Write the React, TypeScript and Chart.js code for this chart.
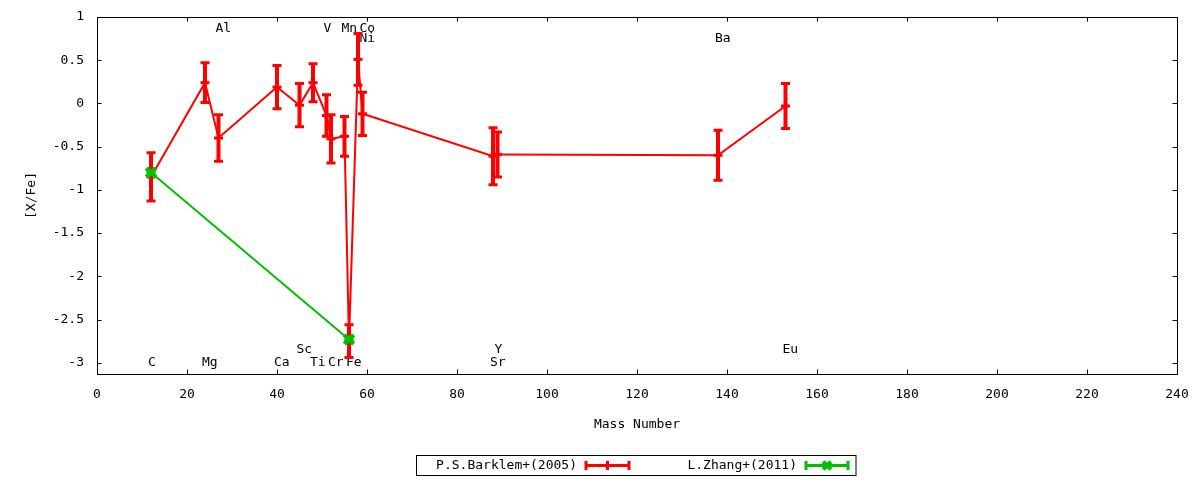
import { useEffect, useRef } from 'react';
import { Chart, registerables } from 'chart.js';

Chart.register(...registerables);

// ---- data ----
const barklemMass = [12, 24, 27, 40, 45, 48, 51, 52, 55, 56, 58, 59, 88, 89, 138, 153];
const barklemXFe = [-0.85, 0.24, -0.40, 0.19, -0.02, 0.24, -0.14, -0.41, -0.38, -2.75, 0.51, -0.12, -0.61, -0.59, -0.60, -0.03];
const barklemErr = [0.28, 0.23, 0.27, 0.25, 0.25, 0.22, 0.24, 0.28, 0.23, 0.19, 0.30, 0.25, 0.33, 0.26, 0.29, 0.26];

const zhangMass = [12, 56];
const zhangXFe = [-0.80, -2.73];
const zhangErr = [0, 0];

const elementNames = ['C', 'Mg', 'Al', 'Ca', 'Sc', 'Ti', 'V', 'Cr', 'Mn', 'Fe', 'Co', 'Ni', 'Sr', 'Y', 'Ba', 'Eu'];
const elementMass = [12, 24, 27, 40, 45, 48, 51, 52, 55, 56, 59, 59, 88, 89, 138, 153];
const elementLevel = [-3, -3, 0.87, -3, -2.85, -3, 0.87, -3, 0.87, -3, 0.87, 0.75, -3, -2.85, 0.75, -2.85];

const xTicks = [0, 20, 40, 60, 80, 100, 120, 140, 160, 180, 200, 220, 240];
const yTicks = [-3, -2.5, -2, -1.5, -1, -0.5, 0, 0.5, 1];

const FONT = '"DejaVu Sans Mono"';
const RED = '#ff0000';
const GREEN = '#00c000';

function drawCrossRot(ctx: CanvasRenderingContext2D, x: number, y: number, r: number, lw: number, color: string) {
  const d = r * Math.SQRT1_2;
  ctx.save();
  ctx.strokeStyle = color;
  ctx.lineWidth = lw;
  ctx.beginPath();
  ctx.moveTo(x - d, y - d);
  ctx.lineTo(x + d, y + d);
  ctx.moveTo(x - d, y + d);
  ctx.lineTo(x + d, y - d);
  ctx.stroke();
  ctx.restore();
}

const framePlugin = {
  id: 'gpFrame',
  beforeDatasetsDraw(chart: any) {
    const { ctx, chartArea: a, scales } = chart;
    const xs = scales.x;
    const ys = scales.y;
    const tl = 4.5;
    ctx.save();
    ctx.strokeStyle = '#000';
    ctx.lineWidth = 1;
    ctx.strokeRect(Math.round(a.left) + 0.5, Math.round(a.top) + 0.5, Math.round(a.right - a.left), Math.round(a.bottom - a.top));
    ctx.beginPath();
    xs.ticks.forEach((t: any) => {
      const px = Math.round(xs.getPixelForValue(t.value)) + 0.5;
      ctx.moveTo(px, a.bottom);
      ctx.lineTo(px, a.bottom - tl);
      ctx.moveTo(px, a.top);
      ctx.lineTo(px, a.top + tl);
    });
    ys.ticks.forEach((t: any) => {
      const py = Math.round(ys.getPixelForValue(t.value)) + 0.5;
      ctx.moveTo(a.left, py);
      ctx.lineTo(a.left + tl, py);
      ctx.moveTo(a.right, py);
      ctx.lineTo(a.right - tl, py);
    });
    ctx.stroke();

    // element labels
    ctx.fillStyle = '#000';
    ctx.font = `13px ${FONT}`;
    ctx.textAlign = 'left';
    ctx.textBaseline = 'middle';
    elementNames.forEach((n, i) => {
      const px = xs.getPixelForValue(elementMass[i]) - 3;
      const py = ys.getPixelForValue(elementLevel[i]);
      ctx.fillText(n, px, py);
    });
    ctx.restore();
  },
};

const errorBarPlugin = {
  id: 'gpErrorBars',
  afterDatasetDraw(chart: any, args: any) {
    const ds = chart.data.datasets[args.index];
    const errs: number[] | undefined = ds.errors;
    if (!errs) return;
    const { ctx, scales } = chart;
    const xs = scales.x;
    const ys = scales.y;
    ctx.save();
    ctx.strokeStyle = ds.borderColor;
    ds.data.forEach((p: any, i: number) => {
      const e = errs[i];
      const px = xs.getPixelForValue(p.x);
      const yT = ys.getPixelForValue(p.y + e);
      const yB = ys.getPixelForValue(p.y - e);
      ctx.lineWidth = 4;
      ctx.beginPath();
      ctx.moveTo(px, yT);
      ctx.lineTo(px, yB);
      ctx.stroke();
      ctx.lineWidth = 3;
      ctx.beginPath();
      ctx.moveTo(px - 4.5, yT);
      ctx.lineTo(px + 4.5, yT);
      ctx.moveTo(px - 4.5, yB);
      ctx.lineTo(px + 4.5, yB);
      ctx.stroke();
    });
    ctx.restore();
  },
};

const legendPlugin = {
  id: 'gpLegend',
  afterDraw(chart: any) {
    const { ctx } = chart;
    ctx.save();
    ctx.strokeStyle = '#000';
    ctx.lineWidth = 1;
    ctx.strokeRect(416.5, 455.5, 439.5, 20);
    const cy = 465.5;
    const entries = [
      { textRight: 577, x0: 586, x1: 629 },
      { textRight: 797, x0: 806, x1: 848 },
    ];
    ctx.font = `13px ${FONT}`;
    ctx.textAlign = 'right';
    ctx.textBaseline = 'middle';
    chart.data.datasets.forEach((ds: any, i: number) => {
      const en = entries[i];
      ctx.fillStyle = '#000';
      ctx.fillText(ds.label, en.textRight, cy);
      const col = ds.borderColor;
      ctx.strokeStyle = col;
      ctx.lineWidth = 3;
      ctx.beginPath();
      ctx.moveTo(en.x0, cy);
      ctx.lineTo(en.x1, cy);
      ctx.moveTo(en.x0, cy - 4.5);
      ctx.lineTo(en.x0, cy + 4.5);
      ctx.moveTo(en.x1, cy - 4.5);
      ctx.lineTo(en.x1, cy + 4.5);
      ctx.stroke();
      const mx = (en.x0 + en.x1) / 2;
      if (ds.pointStyle === 'crossRot') {
        drawCrossRot(ctx, mx, cy, 5.5, 4, col);
      } else {
        ctx.beginPath();
        ctx.moveTo(mx, cy - 4.5);
        ctx.lineTo(mx, cy + 4.5);
        ctx.stroke();
      }
    });
    ctx.restore();
  },
};

export default function App() {
  const ref = useRef<HTMLCanvasElement>(null);

  useEffect(() => {
    document.body.style.margin = '0';
    const canvas = ref.current;
    if (!canvas) return;
    const font = { family: FONT, size: 13 };
    const chart = new Chart(canvas, {
      type: 'scatter',
      data: {
        datasets: [
          {
            label: 'P.S.Barklem+(2005)',
            data: barklemMass.map((m, i) => ({ x: m, y: barklemXFe[i] })),
            errors: barklemErr,
            showLine: true,
            borderColor: RED,
            backgroundColor: RED,
            borderWidth: 2,
            pointStyle: 'line',
            pointRadius: 4.5,
            pointBorderWidth: 3,
            pointBorderColor: RED,
            order: 1,
          } as any,
          {
            label: 'L.Zhang+(2011)',
            data: zhangMass.map((m, i) => ({ x: m, y: zhangXFe[i] })),
            errors: zhangErr,
            showLine: true,
            borderColor: GREEN,
            backgroundColor: GREEN,
            borderWidth: 2,
            pointStyle: 'crossRot',
            pointRadius: 6.5,
            pointBorderWidth: 4.5,
            pointBorderColor: GREEN,
            order: 0,
          } as any,
        ],
      },
      options: {
        animation: false,
        responsive: false,
        maintainAspectRatio: false,
        layout: { padding: { top: 17, right: 23, bottom: 0, left: 0 } },
        plugins: {
          legend: { display: false },
          tooltip: { enabled: false },
        },
        scales: {
          x: {
            type: 'linear',
            min: 0,
            max: 240,
            grid: { display: false, drawTicks: false },
            border: { display: false },
            ticks: { font, color: '#000', padding: 13, maxRotation: 0, autoSkip: false, callback: (v: any) => String(v) },
            title: { display: true, text: 'Mass Number', font, color: '#000', padding: { top: 0, bottom: 48 } },
            afterBuildTicks: (s: any) => { s.ticks = xTicks.map((v) => ({ value: v })); },
            afterFit: (s: any) => {
              s.height = 106;
              s.paddingLeft = 0;
              s.paddingRight = 0;
              s.paddingTop = 0;
              s.paddingBottom = 0;
            },
          },
          y: {
            type: 'linear',
            min: -3.13,
            max: 1,
            grid: { display: false, drawTicks: false },
            border: { display: false },
            ticks: { font, color: '#000', padding: 13, callback: (v: any) => String(v) },
            title: { display: true, text: '[X/Fe]', font, color: '#000', padding: { top: 24, bottom: 0 } },
            afterBuildTicks: (s: any) => { s.ticks = yTicks.map((v) => ({ value: v })); },
            afterFit: (s: any) => {
              s.width = 97;
              s.paddingLeft = 0;
              s.paddingRight = 0;
              s.paddingTop = 0;
              s.paddingBottom = 0;
            },
          },
        },
      } as any,
      plugins: [framePlugin, errorBarPlugin, legendPlugin],
    });
    return () => chart.destroy();
  }, []);

  return (
    <div style={{ width: 1200, height: 480 }}>
      <canvas ref={ref} width={1200} height={480} style={{ display: 'block' }} />
    </div>
  );
}
